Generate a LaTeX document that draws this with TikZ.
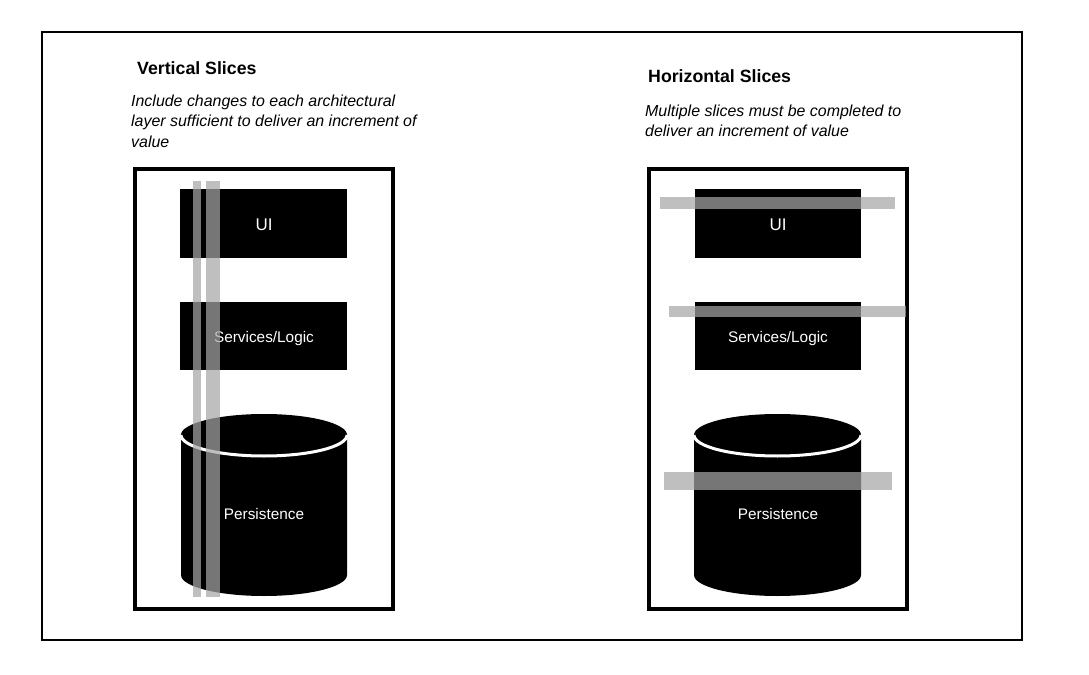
\documentclass[tikz,border=0pt]{standalone}
\usepackage{fontspec}
\setmainfont{Liberation Sans}
\definecolor{slicegray}{RGB}{166,166,166}
\begin{document}
\begin{tikzpicture}[x=1bp,y=-1bp,
  frame/.style={draw=black, line width=2bp},
  stackbox/.style={draw=black, line width=4bp},
  layer/.style={fill=black},
  slicebar/.style={fill=slicegray, fill opacity=0.714},
  cylfront/.style={draw=white, line width=3bp},
  lbl/.style={text=white, inner sep=0, anchor=base, font=\fontsize{15.4}{18}\selectfont},
  uilbl/.style={text=white, inner sep=0, anchor=base, font=\fontsize{17}{20}\selectfont},
  titletext/.style={inner sep=0, anchor=base west, font=\fontsize{17.8}{21}\selectfont\bfseries},
  desc/.style={inner sep=0, anchor=base west, font=\fontsize{16}{20.5}\selectfont\itshape}]
\useasboundingbox (0,0) rectangle (1089,675);
\fill[white] (0,0) rectangle (1089,675);
\draw[frame] (42,32) rectangle (1022,640);

% ---------- left: vertical slices ----------
\node[titletext] (vtitle) at (137,75) {Vertical Slices};
\node[desc] (vd1) at (131,106.5) {Include changes to each architectural};
\node[desc] (vd2) at (131,127) {layer sufficient to deliver an increment of};
\node[desc] (vd3) at (131,147.5) {value};

\draw[stackbox] (135,169) rectangle (393,609);
\fill[layer] (180,189) rectangle (347,258);
\fill[layer] (180,302) rectangle (347,370);
\fill[layer] (181,435) arc[start angle=180, end angle=360, x radius=83, y radius=21]
  -- (347,575) arc[start angle=0, end angle=180, x radius=83, y radius=21] -- cycle;
\draw[cylfront] (181,435) arc[start angle=180, end angle=0, x radius=83, y radius=21];
\node[uilbl] (vui) at (264,230) {UI};
\node[lbl] (vsvc) at (264,342.5) {Services/Logic};
\node[lbl] (vper) at (264,519.5) {Persistence};
\fill[slicebar] (193,181) rectangle (201,597);
\fill[slicebar] (206,181) rectangle (220,597);

% ---------- right: horizontal slices ----------
\node[titletext] (htitle) at (648,82.5) {Horizontal Slices};
\node[desc] (hd1) at (645,116.5) {Multiple slices must be completed to};
\node[desc] (hd2) at (645,137) {deliver an increment of value};

\draw[stackbox] (649,169) rectangle (907,609);
\fill[layer] (695,189) rectangle (861,258);
\fill[layer] (695,302) rectangle (861,370);
\fill[layer] (694,435) arc[start angle=180, end angle=360, x radius=83.5, y radius=21]
  -- (861,575) arc[start angle=0, end angle=180, x radius=83.5, y radius=21] -- cycle;
\draw[cylfront] (694,435) arc[start angle=180, end angle=0, x radius=83.5, y radius=21];
\node[uilbl] (hui) at (778,230) {UI};
\node[lbl] (hsvc) at (778,342.5) {Services/Logic};
\node[lbl] (hper) at (778,519.5) {Persistence};
\fill[slicebar] (660,197) rectangle (895,209);
\fill[slicebar] (669,306) rectangle (906,317);
\fill[slicebar] (664,472) rectangle (892,490);
\end{tikzpicture}
\end{document}
